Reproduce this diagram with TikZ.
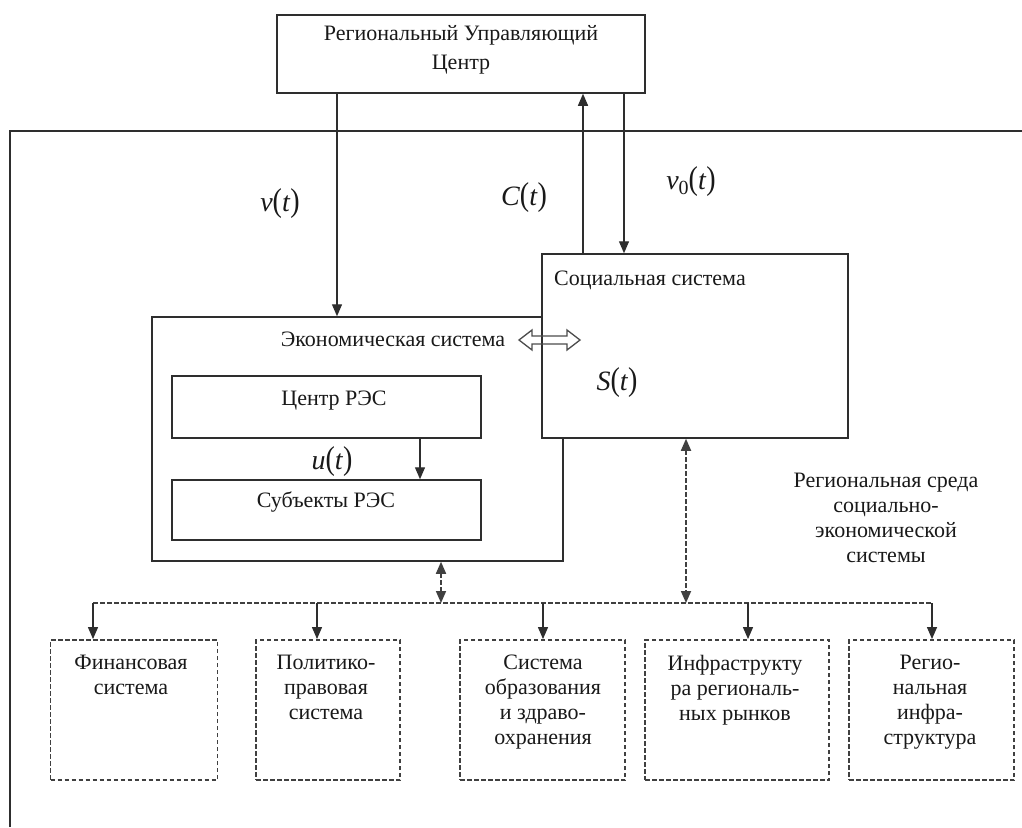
\documentclass[tikz,border=0pt]{standalone}
\usepackage{fontspec}
\setmainfont{Liberation Serif}
\usetikzlibrary{arrows.meta}
\newcommand{\tallp}[1]{\scalebox{1}[1.18]{#1}}
\newcommand{\fn}[2]{\textit{#1}\tallp{(}\textit{#2}\tallp{)}}
\begin{document}
\begin{tikzpicture}[x=1pt,y=-1pt,
  linecol/.style={draw=black!82},
  box/.style={linecol, line width=1.5pt, fill=white, inner sep=0, rectangle},
  dbox/.style={draw=black!75, line width=1.9pt, dash pattern=on 4.5pt off 2.5pt, inner sep=0, rectangle},
  txt/.style={font=\fontsize{22}{25}\selectfont, align=center, inner sep=0, text=black!90},
  mlabel/.style={font=\fontsize{28}{30}\selectfont, inner sep=0, text=black!90},
  arr/.style={linecol, line width=1.3pt, -{Triangle[length=12pt,width=10pt]}},
  darr/.style={draw=black!75, line width=1.7pt, dash pattern=on 4.5pt off 2.5pt,
     {Triangle[length=12pt,width=10pt]}-{Triangle[length=12pt,width=10pt]}},
  busline/.style={draw=black!75, line width=1.7pt, dash pattern=on 4.5pt off 2.5pt}
]
\useasboundingbox (0,0) rectangle (1022,827);
\fill[white] (0,0) rectangle (1022,827);

% outer frame (regional environment)
\coordinate (fbl) at (10,827);
\coordinate (ftl) at (10,131);
\coordinate (ftr) at (1022,131);
\draw[linecol, line width=1.5pt] (fbl) -- (ftl) -- (ftr);

% top box
\node[box, minimum width=368pt, minimum height=78pt] (top) at (461,54) {};
\node[txt, font=\fontsize{22}{29}\selectfont, anchor=north] (toptxt) at (461,25)
  {Региональный Управляющий\\Центр};

% economic system
\node[box, minimum width=411pt, minimum height=244pt] (econ) at (357.5,439) {};
\node[txt, anchor=center] (econtxt) at (393,339) {Экономическая система};
\node[box, minimum width=309pt, minimum height=62pt] (cent) at (326.5,407) {};
\node[txt] (centtxt) at (334,401) {Центр РЭС};
\node[box, minimum width=309pt, minimum height=60pt] (subj) at (326.5,510) {};
\node[txt] (subjtxt) at (326,502) {Субъекты РЭС};

% social system
\node[box, minimum width=306pt, minimum height=184pt] (soc) at (695,346) {};
\node[txt, anchor=west] (soctxt) at (554,280) {Социальная система};
\node[mlabel] (st) at (617,383) {\fn{S}{t}};

% double open arrow between systems
\draw[draw=black!70, line width=1.3pt, line join=miter]
  (519,340) -- (532,330) -- (532,336) -- (567,336) -- (567,330) -- (580,340)
  -- (567,350) -- (567,344) -- (532,344) -- (532,350) -- cycle;

% control flows
\coordinate (vx) at (337,0);
\coordinate (cx) at (583,0);
\coordinate (v0x) at (624,0);
\draw[arr] (top.south -| vx) -- (econ.north -| vx);
\draw[arr] (soc.north -| cx) -- (top.south -| cx);
\draw[arr] (top.south -| v0x) -- (soc.north -| v0x);
\node[mlabel] (vt) at (280,204) {\fn{v}{t}};
\node[mlabel] (ct) at (524,198) {\fn{C}{t}};
\node[mlabel] (v0t) at (691,182) {\textit{v}\raisebox{-0.18em}{\fontsize{20}{20}\selectfont 0}\tallp{(}\textit{t}\tallp{)}};

% u(t)
\coordinate (ux) at (420,0);
\draw[arr] (cent.south -| ux) -- (subj.north -| ux);
\node[mlabel] (ut) at (332,462) {\fn{u}{t}};

% regional environment label
\node[txt, anchor=north] (envtxt) at (886,473)
  {Региональная среда\\социально-\\экономической\\системы};

% bus
\coordinate (busL) at (93,603);
\coordinate (busR) at (932,603);
\draw[busline] (busL) -- (busR);
\coordinate (ex) at (441,0);
\coordinate (sx) at (686,0);
\draw[darr] (econ.south -| ex) -- (busL -| ex);
\draw[darr] (soc.south -| sx) -- (busL -| sx);

% bottom dashed boxes
\node[dbox, minimum width=167pt, minimum height=140pt] (b1) at (134,710) {};
\node[dbox, minimum width=144pt, minimum height=140pt] (b2) at (328,710) {};
\node[dbox, minimum width=165pt, minimum height=140pt] (b3) at (542.5,710) {};
\node[dbox, minimum width=184pt, minimum height=140pt] (b4) at (737,710) {};
\node[dbox, minimum width=165pt, minimum height=140pt] (b5) at (931.5,710) {};

\node[txt, anchor=north] (t1) at (131,655) {Финансовая\\система};
\node[txt, anchor=north] (t2) at (326,655) {Политико-\\правовая\\система};
\node[txt, anchor=north] (t3) at (543,655) {Система\\образования\\и здраво-\\охранения};
\node[txt, anchor=north] (t4) at (735,655) {Инфраструкту\\ра региональ-\\ных рынков};
\node[txt, anchor=north] (t5) at (930,655) {Регио-\\нальная\\инфра-\\структура};

\coordinate (a1) at (93,603);
\coordinate (a2) at (317,603);
\coordinate (a3) at (543,603);
\coordinate (a4) at (748,603);
\coordinate (a5) at (932,603);
\draw[arr] (a1) -- (a1 |- b1.north);
\draw[arr] (a2) -- (a2 |- b2.north);
\draw[arr] (a3) -- (a3 |- b3.north);
\draw[arr] (a4) -- (a4 |- b4.north);
\draw[arr] (a5) -- (a5 |- b5.north);
\end{tikzpicture}
\end{document}
